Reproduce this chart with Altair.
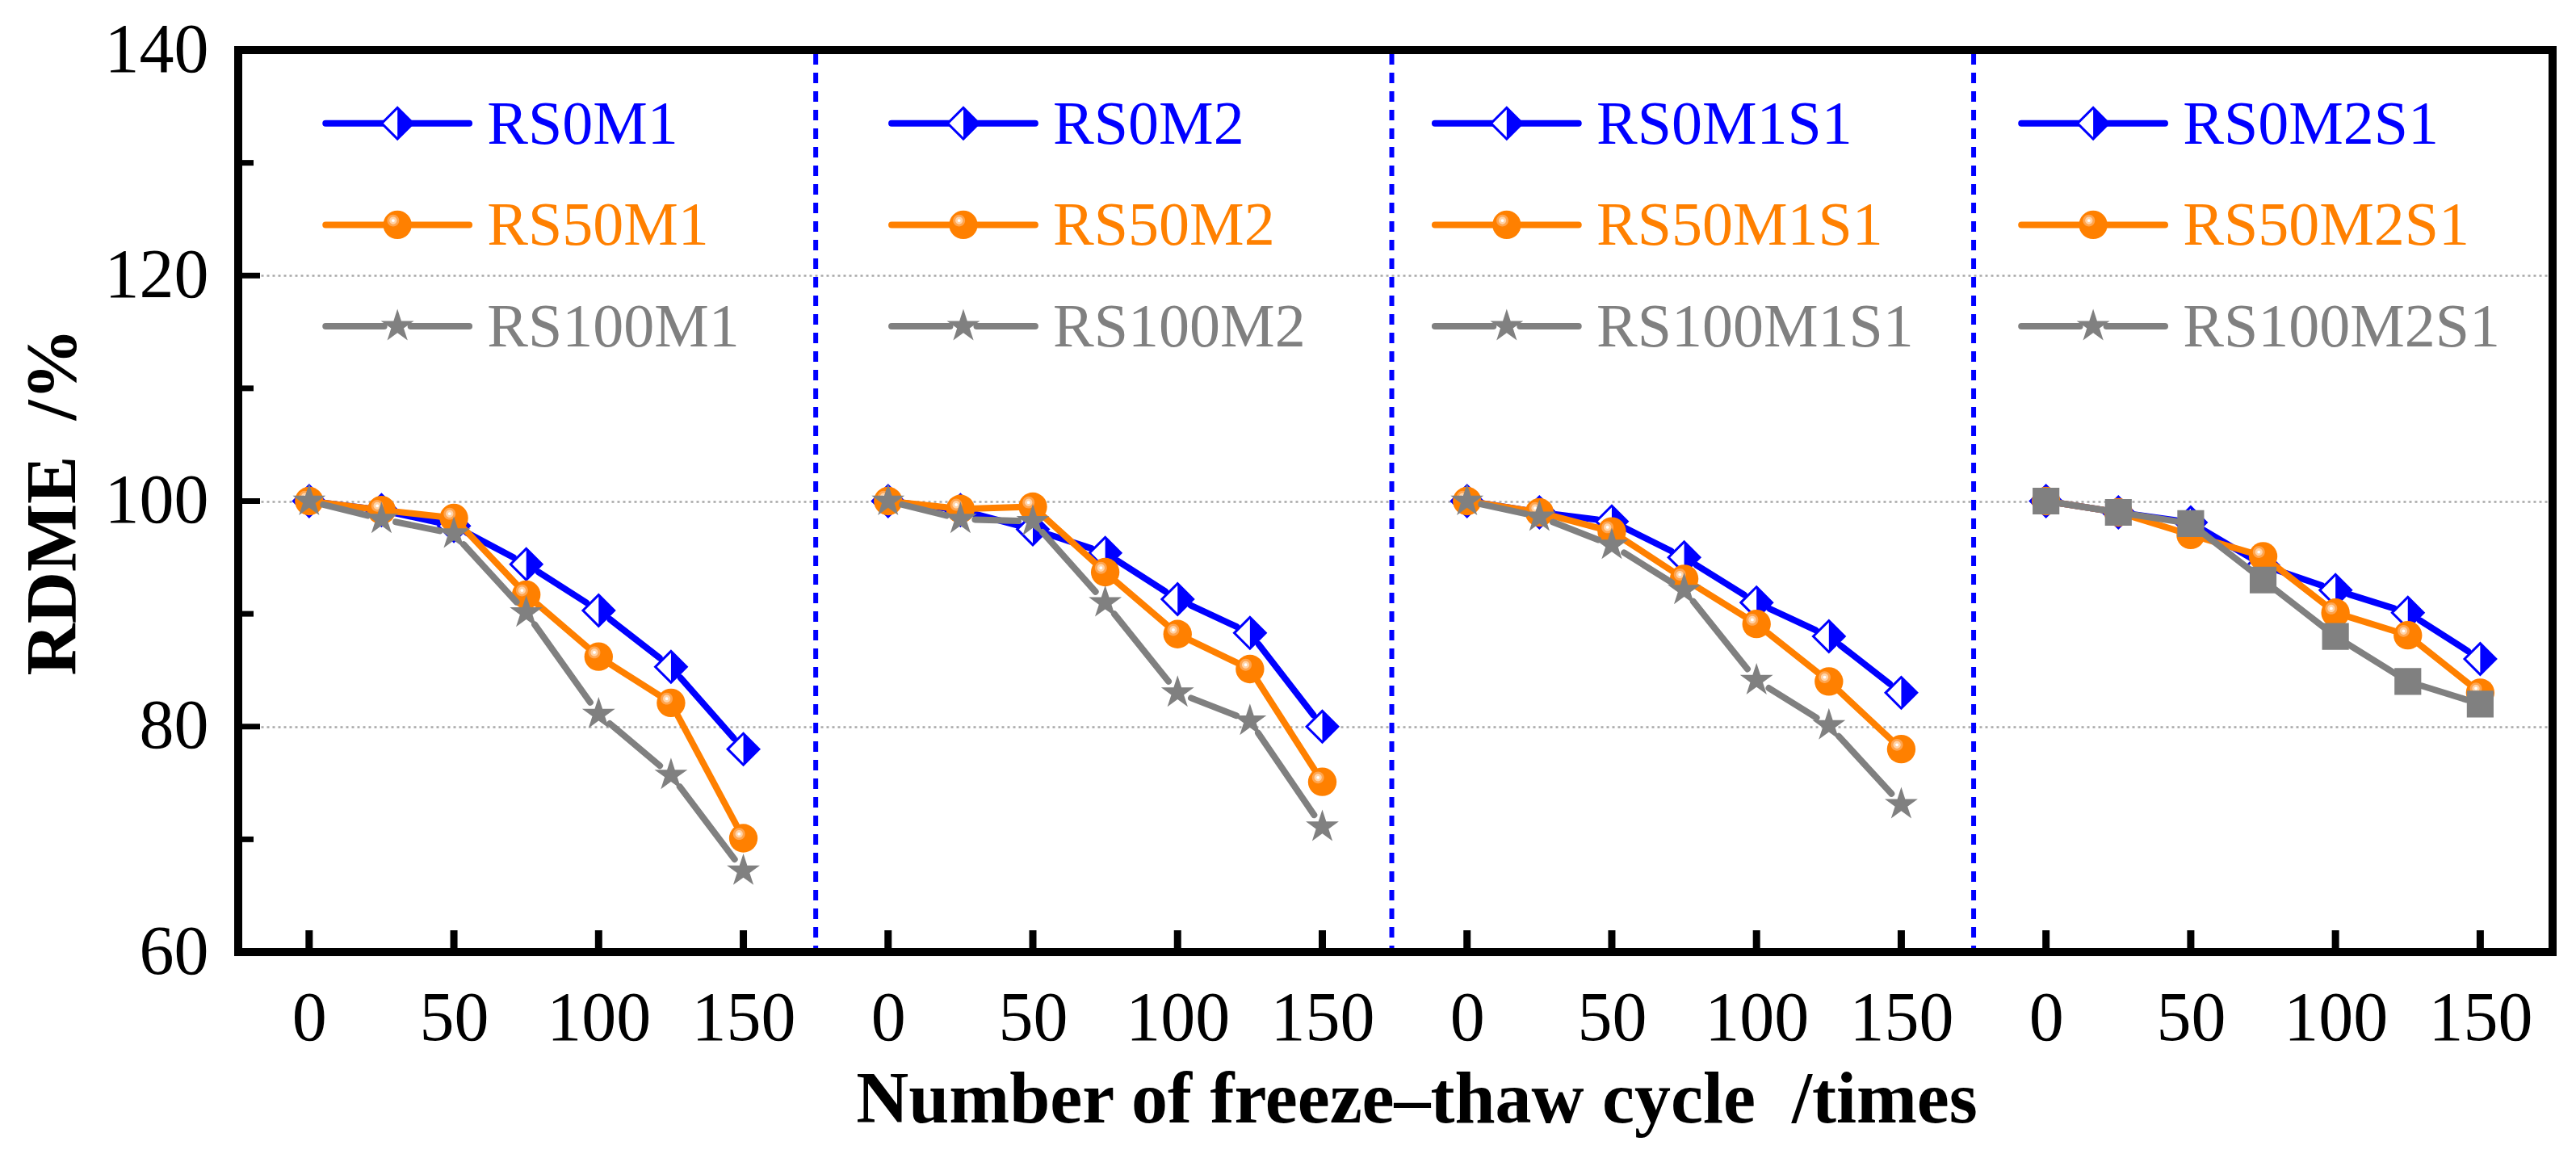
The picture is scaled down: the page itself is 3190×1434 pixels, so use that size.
import altair as alt
import pandas as pd

# ---------------- data ----------------
cycles = [0, 25, 50, 75, 100, 125, 150]
rs0_names = ["RS0M1", "RS0M2", "RS0M1S1", "RS0M2S1"]
rs50_names = ["RS50M1", "RS50M2", "RS50M1S1", "RS50M2S1"]
rs100_names = ["RS100M1", "RS100M2", "RS100M1S1", "RS100M2S1"]

rs0_m1 = [100, 99.2, 97.8, 94.4, 90.3, 85.3, 78.0]
rs0_m2 = [100, 99.2, 97.5, 95.4, 91.3, 88.3, 80.0]
rs0_m1s1 = [100, 99.0, 98.2, 95.0, 91.0, 88.0, 83.0]
rs0_m2s1 = [100, 99.0, 98.1, 94.3, 92.1, 90.1, 86.0]

rs50_m1 = [100, 99.2, 98.5, 91.7, 86.2, 82.1, 70.1]
rs50_m2 = [100, 99.3, 99.5, 93.7, 88.2, 85.1, 75.1]
rs50_m1s1 = [100, 99.0, 97.3, 93.1, 89.1, 84.0, 78.0]
rs50_m2s1 = [100, 99.0, 97.0, 95.1, 90.1, 88.1, 83.0]

rs100_m1 = [100, 98.4, 97.1, 90.1, 81.1, 75.7, 67.2]
rs100_m2 = [100, 98.4, 98.2, 91.0, 83.0, 80.5, 71.1]
rs100_m1s1 = [100, 98.6, 96.1, 92.1, 84.1, 80.1, 73.1]
rs100_m2s1 = [100, 99.0, 98.0, 93.0, 88.0, 84.0, 82.0]

y_ticks = [60, 80, 100, 120, 140]
y_minor = [70, 90, 110, 130]
x_ticks = [0, 50, 100, 150]

x_title = "Number of freeze\u2013thaw cycle \u00a0/times"
y_title = "RDME \u00a0/%"

# ---------------- layout / style constants ----------------
W, H = 2866, 1117
PANEL_STEP = 200
X_DOMAIN = [-24.5, 775]
Y_DOMAIN = [60, 140]
SEPARATORS = [175, 374, 575]
LEG_MX = [30.5, 226.0, 413.7, 616.3]
LEG_Y = [133.5, 124.5, 115.5]
LEG_HALF, LEG_GAP, LEG_TEXT = 24.8, 4.6, 31.0
GAP_PX = 18.0  # gap between a line segment end and its symbol centre (Origin style)
SX = W / (X_DOMAIN[1] - X_DOMAIN[0])
SY = H / (Y_DOMAIN[1] - Y_DOMAIN[0])

BLUE, ORANGE, GRAY = "#0000FF", "#FF8000", "#808080"
FONT = "Liberation Serif"
GROUPS = ["RS0", "RS50", "RS100"]

series_values = [
    [rs0_m1, rs0_m2, rs0_m1s1, rs0_m2s1],
    [rs50_m1, rs50_m2, rs50_m1s1, rs50_m2s1],
    [rs100_m1, rs100_m2, rs100_m1s1, rs100_m2s1],
]
series_names = [rs0_names, rs50_names, rs100_names]

rows = []
for g in range(3):
    for p in range(4):
        for c, v in zip(cycles, series_values[g][p]):
            rows.append({"panel": p, "grp": GROUPS[g], "series": series_names[g][p],
                         "cycle": c, "rdme": v})
df = pd.DataFrame(rows)

leg_rows = []
for p in range(4):
    for g in range(3):
        leg_rows.append({"panel": p, "grp": GROUPS[g], "series": series_names[g][p],
                         "mx": LEG_MX[p], "ly": LEG_Y[g]})
leg = pd.DataFrame(leg_rows)

xtick_df = pd.DataFrame([{"panel": p, "cycle": t} for p in range(4) for t in x_ticks])
axis_values = [p * PANEL_STEP + t for p in range(4) for t in x_ticks]

# ---------------- scales / axes ----------------
xscale = alt.Scale(domain=X_DOMAIN, nice=False, zero=False)
yscale = alt.Scale(domain=Y_DOMAIN, nice=False, zero=False)

xaxis = alt.Axis(
    values=axis_values, labelExpr="datum.value % 200", title=x_title,
    ticks=False, tickSize=0, domain=False, grid=False,
    labelFont=FONT, labelFontSize=86, labelColor="black", labelPadding=40,
    labelFlush=False, labelOverlap=False,
    titleFont=FONT, titleFontSize=90, titleFontWeight="bold", titleColor="black",
    titleX=1459, titleY=210, titleBaseline="alphabetic", titleAlign="center",
)
yaxis = alt.Axis(
    values=y_ticks, title=y_title,
    ticks=False, tickSize=0, domain=False, grid=True,
    gridColor="#a8a8a8", gridDash=[3, 4], gridWidth=2.5,
    labelFont=FONT, labelFontSize=86, labelColor="black", labelPadding=37,
    titleFont=FONT, titleFontSize=89, titleFontWeight="bold", titleColor="black",
    titleX=-230, titleY=559, titleBaseline="middle", titleAlign="center",
)


def X(field):
    return alt.X(field, type="quantitative", scale=xscale, axis=xaxis)


def Y(field):
    return alt.Y(field, type="quantitative", scale=yscale, axis=yaxis)


def circle_path(cx, cy, r):
    return (f"M{cx - r:.3f},{cy:.3f}A{r:.3f},{r:.3f} 0 1,0 {cx + r:.3f},{cy:.3f}"
            f"A{r:.3f},{r:.3f} 0 1,0 {cx - r:.3f},{cy:.3f}Z")


HALF_R = "M0,-1L1,0L0,1Z"
STAR = ("M0,-1L0.2245,-0.309L0.9511,-0.309L0.3633,0.118L0.5878,0.809L0,0.382"
        "L-0.5878,0.809L-0.3633,0.118L-0.9511,-0.309L-0.2245,-0.309Z")
HL1 = circle_path(-0.3, -0.3, 0.42)
HL2 = circle_path(-0.3, -0.3, 0.26)
HL3 = circle_path(-0.3, -0.3, 0.11)


def markers(base, xf, yf, g, squares=False):
    enc = dict(x=X(xf), y=Y(yf))
    if g == 0:
        return [
            base.mark_point(shape="diamond", filled=True, fill="white", stroke=BLUE,
                            strokeWidth=3, size=1500, opacity=1).encode(**enc),
            base.mark_point(shape=HALF_R, filled=True, fill=BLUE, strokeWidth=0,
                            size=1500, opacity=1).encode(**enc),
        ]
    if g == 1:
        out = [base.mark_point(shape="circle", filled=True, fill=ORANGE, strokeWidth=0,
                               size=1250, opacity=1).encode(**enc)]
        for path, col in [(HL1, "#FFA550"), (HL2, "#FFD3A8"), (HL3, "#FFFFFF")]:
            out.append(base.mark_point(shape=path, filled=True, fill=col, strokeWidth=0,
                                       size=1250, opacity=1).encode(**enc))
        return out
    if squares:
        stars = base.transform_filter("datum.panel < 3")
        sq = base.transform_filter("datum.panel == 3")
        return [
            stars.mark_point(shape=STAR, filled=True, fill=GRAY, strokeWidth=0,
                             size=1850, opacity=1).encode(**enc),
            sq.mark_point(shape="square", filled=True, fill=GRAY, strokeWidth=0,
                          size=1100, opacity=1).encode(**enc),
        ]
    return [base.mark_point(shape=STAR, filled=True, fill=GRAY, strokeWidth=0,
                            size=1850, opacity=1).encode(**enc)]


layers = []

# vertical dotted separators between panels
sep = alt.Chart(pd.DataFrame({"sx": SEPARATORS}))
layers.append(sep.mark_rule(color=BLUE, strokeWidth=6, strokeDash=[13, 10]).encode(
    x=X("sx"), y=alt.value(5), y2=alt.value(H - 5)))

# inward ticks
yt = alt.Chart(pd.DataFrame({"v": y_ticks}))
layers.append(yt.mark_rule(color="black", strokeWidth=7).encode(
    y=Y("v"), x=alt.value(0), x2=alt.value(27)))
ym = alt.Chart(pd.DataFrame({"v": y_minor}))
layers.append(ym.mark_rule(color="black", strokeWidth=7).encode(
    y=Y("v"), x=alt.value(0), x2=alt.value(19)))
xt = alt.Chart(xtick_df).transform_calculate(xc=f"datum.panel * {PANEL_STEP} + datum.cycle")
layers.append(xt.mark_rule(color="black", strokeWidth=9).encode(
    x=X("xc"), y=alt.value(H), y2=alt.value(H - 27)))

# data series
base = alt.Chart(df).transform_calculate(xc=f"datum.panel * {PANEL_STEP} + datum.cycle")
colors = [BLUE, ORANGE, GRAY]
for g in range(3):
    gb = base.transform_filter(f"datum.grp == '{GROUPS[g]}'")
    seg = gb.transform_window(
        nx="lead(xc)", ny="lead(rdme)", groupby=["series"], sort=[alt.SortField("cycle")]
    ).transform_filter("datum.nx != null").transform_calculate(
        L=f"sqrt(pow((datum.nx - datum.xc) * {SX}, 2) + pow((datum.ny - datum.rdme) * {SY}, 2))"
    ).transform_filter(f"datum.L > {2 * GAP_PX + 2}").transform_calculate(
        t=f"{GAP_PX} / datum.L"
    ).transform_calculate(
        x1="datum.xc + (datum.nx - datum.xc) * datum.t",
        x2="datum.nx - (datum.nx - datum.xc) * datum.t",
        y1="datum.rdme + (datum.ny - datum.rdme) * datum.t",
        y2="datum.ny - (datum.ny - datum.rdme) * datum.t",
    )
    layers.append(seg.mark_rule(color=colors[g], strokeWidth=8, strokeCap="round").encode(
        x=X("x1"), x2=alt.X2("x2"), y=Y("y1"), y2=alt.Y2("y2")))
    layers.extend(markers(gb, "xc", "rdme", g, squares=(g == 2)))

# per-panel legends
lb = alt.Chart(leg).transform_calculate(
    la1=f"datum.mx - {LEG_HALF}", la2=f"datum.mx - {LEG_GAP}",
    lb1=f"datum.mx + {LEG_GAP}", lb2=f"datum.mx + {LEG_HALF}",
    tx=f"datum.mx + {LEG_TEXT}",
)
cscale = alt.Scale(domain=GROUPS, range=colors)
for g in range(3):
    lg = lb.transform_filter(f"datum.grp == '{GROUPS[g]}'")
    for a, b in [("la1", "la2"), ("lb1", "lb2")]:
        layers.append(lg.mark_rule(color=colors[g], strokeWidth=8, strokeCap="round").encode(
            x=X(a), x2=alt.X2(b), y=Y("ly")))
    layers.extend(markers(lg, "mx", "ly", g, squares=False))
layers.append(lb.mark_text(align="left", baseline="alphabetic", dy=25, fontSize=76,
                           font=FONT).encode(
    x=X("tx"), y=Y("ly"), text="series:N",
    color=alt.Color("grp:N", scale=cscale, legend=None)))

# thick black frame on top
frame = alt.Chart(pd.DataFrame({"a": [0]})).mark_rect(
    filled=False, stroke="black", strokeWidth=10, fill="transparent").encode(
    x=alt.value(0), x2=alt.value(W), y=alt.value(0), y2=alt.value(H))
layers.append(frame)

chart = alt.layer(*layers).properties(
    width=W, height=H,
    autosize=alt.AutoSizeParams(type="none"),
    padding={"left": 287, "top": 54, "right": 15, "bottom": 235},
).configure_view(stroke=None).configure(background="white")

chart.save("out.html", embed_options={"renderer": "svg", "actions": False})
